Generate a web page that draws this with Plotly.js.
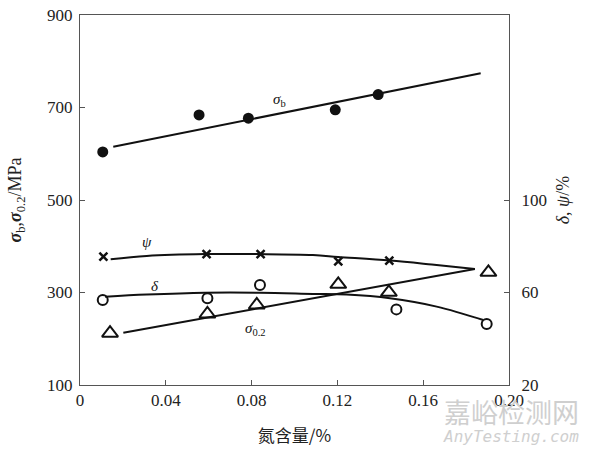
<!DOCTYPE html>
<html>
<head>
<meta charset="utf-8">
<script src="https://cdn.plot.ly/plotly-3.0.1.min.js"></script>
<style>html,body{margin:0;padding:0;background:#fff;}#chart{width:594px;height:455px;}</style>
</head>
<body>
<div id="chart"></div>
<script>
// Nitrogen content (%) and measured values
var xTickVals = [0, 0.04, 0.08, 0.12, 0.16, 0.20];
var xTickText = ["0", "0.04", "0.08", "0.12", "0.16", "0.20"];
var yLeftTicks = [100, 300, 500, 700, 900];
var yRightTicks = [20, 60, 100];

// sigma_b (MPa) – filled circles
var sbX = [0.0106, 0.0555, 0.0785, 0.119, 0.139];
var sbY = [604, 684, 677, 695, 728];
var sbFitX = [0.0155, 0.1868];
var sbFitY = [615, 774];

// sigma_0.2 (MPa) – open triangles
var s02X = [0.014, 0.0594, 0.0824, 0.1204, 0.144, 0.1904];
var s02Y = [212, 253.5, 273, 317.7, 300.4, 343.6];
var s02FitX = [0.0202, 0.1841];
var s02FitY = [213, 351];

// delta (%) – open circles
var dX = [0.0106, 0.0594, 0.0839, 0.1475, 0.1896];
var dY = [56.8, 57.5, 63.2, 52.7, 46.4];
var dFitX = [0.0117, 0.0311, 0.0583, 0.0839, 0.1086, 0.1243, 0.1445, 0.1663, 0.188];
var dFitY = [58.2, 59.1, 59.9, 59.9, 59.4, 59.1, 57.5, 53.9, 48.1];

// psi (%) – crosses
var pX = [0.0109, 0.059, 0.0842, 0.1204, 0.1442];
var pY = [75.5, 76.6, 76.6, 73.5, 73.8];
var pFitX = [0.0143, 0.0311, 0.0583, 0.0839, 0.1086, 0.1203, 0.1445, 0.164, 0.1841];
var pFitY = [74.4, 75.8, 76.6, 76.6, 76.2, 75.4, 73.8, 72.1, 70.2];

var black = "#111";
var traces = [
  {x: sbFitX, y: sbFitY, mode: "lines", line: {color: black, width: 2}, yaxis: "y", hoverinfo: "skip"},
  {x: sbX, y: sbY, mode: "markers", marker: {symbol: "circle", size: 11, color: black}, yaxis: "y"},
  {x: s02FitX, y: s02FitY, mode: "lines", line: {color: black, width: 2}, yaxis: "y", hoverinfo: "skip"},
  {x: s02X, y: s02Y, mode: "markers", marker: {symbol: "triangle-up-open", size: 14, color: black, line: {width: 2, color: black}}, yaxis: "y"},
  {x: dFitX, y: dFitY, mode: "lines", line: {color: black, width: 2, shape: "spline", smoothing: 1}, yaxis: "y2", hoverinfo: "skip"},
  {x: dX, y: dY, mode: "markers", marker: {symbol: "circle-open", size: 10, color: black, line: {width: 2, color: black}}, yaxis: "y2"},
  {x: pFitX, y: pFitY, mode: "lines", line: {color: black, width: 2, shape: "spline", smoothing: 1}, yaxis: "y2", hoverinfo: "skip"},
  {x: pX, y: pY, mode: "markers", marker: {symbol: "x-thin-open", size: 8, color: black, line: {width: 2.5, color: black}}, yaxis: "y2"}
];

var serif = "Liberation Serif";
var axisCommon = {
  showgrid: false, zeroline: false, showline: true, linecolor: "#555", linewidth: 1,
  ticks: "inside", ticklen: 5, tickcolor: "#555", tickwidth: 1,
  tickfont: {family: serif, size: 17, color: "#222"}
};

var layout = {
  width: 594, height: 455,
  margin: {l: 80, r: 85, t: 15, b: 70},
  paper_bgcolor: "#fff", plot_bgcolor: "#fff",
  showlegend: false,
  font: {family: serif},
  xaxis: Object.assign({}, axisCommon, {
    range: [0, 0.2], tickvals: xTickVals, ticktext: xTickText, mirror: true,
    title: {text: "氮含量/%", font: {family: "Noto Sans CJK SC", size: 17, color: "#222"}, standoff: 20}
  }),
  yaxis: Object.assign({}, axisCommon, {
    range: [100, 900], tickvals: yLeftTicks, mirror: true, ticklabelstandoff: 3,
    title: {text: "<b><i>σ</i></b><sub>b</sub>,<b><i>σ</i></b><sub>0.2</sub>/MPa", font: {family: serif, size: 18, color: "#222"}, standoff: 20}
  }),
  yaxis2: Object.assign({}, axisCommon, {
    range: [20, 180], tickvals: yRightTicks, overlaying: "y", side: "right", ticklabelstandoff: 8,
    title: {text: "<i>δ</i>, <i>ψ</i>/%", font: {family: serif, size: 18, color: "#222"}, standoff: 10}
  }),
  annotations: [
    {x: 0.093, y: 716, xref: "x", yref: "y", text: "<i>σ</i><sub>b</sub>", showarrow: false, font: {family: serif, size: 15, color: "#111"}},
    {x: 0.031, y: 410, xref: "x", yref: "y", text: "<i>ψ</i>", showarrow: false, font: {family: serif, size: 15, color: "#111"}},
    {x: 0.035, y: 313, xref: "x", yref: "y", text: "<i>δ</i>", showarrow: false, font: {family: serif, size: 15, color: "#111"}},
    {x: 0.0816, y: 222, xref: "x", yref: "y", text: "<i>σ</i><sub>0.2</sub>", showarrow: false, font: {family: serif, size: 15, color: "#111"}},
    {x: 511, y: 411, xref: "paper", yref: "paper", xanchor: "center", yanchor: "middle", text: "嘉峪检测网", showarrow: false, font: {family: "Noto Sans CJK SC", size: 27, color: "#cfcfcf"}},
    {x: 511, y: 437, xref: "paper", yref: "paper", xanchor: "center", yanchor: "middle", text: "<i>AnyTesting.com</i>", showarrow: false, font: {family: "DejaVu Sans Mono", size: 16, color: "#cfcfcf"}}
  ]
};

// convert pixel positions for watermark annotations into paper coordinates
var plotW = 594 - 80 - 85, plotH = 455 - 15 - 70;
layout.annotations.forEach(function (a) {
  if (a.xref === "paper") {
    a.x = (a.x - 80) / plotW;
    a.y = 1 - (a.y - 15) / plotH;
  }
});

Plotly.newPlot("chart", traces, layout, {displayModeBar: false, staticPlot: true});
</script>
</body>
</html>
